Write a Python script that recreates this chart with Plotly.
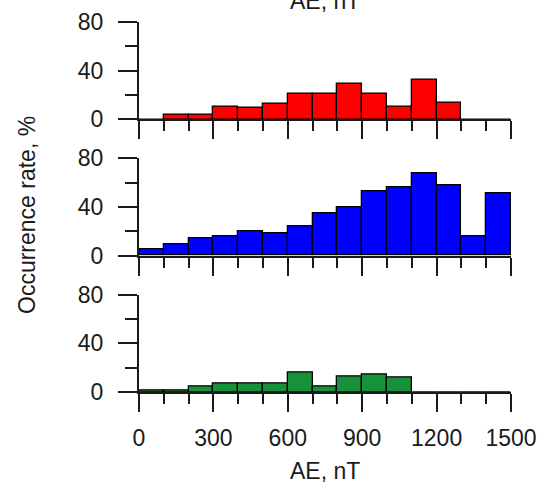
import plotly.graph_objects as go

bin_left = [0, 100, 200, 300, 400, 500, 600, 700, 800, 900, 1000, 1100, 1200, 1300, 1400]
red_vals = [0, 3.6, 3.6, 10.3, 9.2, 12.5, 20.6, 20.6, 29.2, 20.6, 10.3, 32.5, 13.9, 0, 0]
blue_vals = [5, 9.7, 14.6, 16.3, 19.9, 18, 24.5, 34.5, 39.4, 53, 56.3, 67.6, 58, 16, 51]
green_vals = [1, 1, 4.7, 6.8, 6.8, 6.8, 16.4, 4.7, 12.9, 14.5, 11.8, 0, 0, 0, 0]
x_ticks = [0, 300, 600, 900, 1200, 1500]
y_ticks = [0, 40, 80]
x_title = "AE, nT"
y_title = "Occurrence rate, %"

series = [red_vals, blue_vals, green_vals]
colors = ["#FF0000", "#0000FF", "#17923A"]

W, H = 541, 483
L, R = 139, 511
# panel pixel extents (top of 80, bottom at 0)
panels_px = [(21.7, 119.3), (158.3, 255.7), (294.5, 392.0)]
domains = [[1 - b / H, 1 - t / H] for t, b in panels_px]

FONT = "Liberation Sans, Arial, sans-serif"
INK = "#1a1a1a"

fig = go.Figure()
centers = [b + 50 for b in bin_left]
for i, (vals, col) in enumerate(zip(series, colors)):
    xa = "x" if i == 0 else f"x{i+1}"
    ya = "y" if i == 0 else f"y{i+1}"
    fig.add_trace(go.Bar(
        x=centers, y=vals, width=100, marker=dict(color=col, line=dict(color="black", width=1.3)),
        xaxis=xa, yaxis=ya, showlegend=False, hoverinfo="skip"))

layout = dict(
    width=W, height=H,
    margin=dict(l=L, r=W - R, t=0, b=0, autoexpand=False),
    plot_bgcolor="white", paper_bgcolor="white",
    bargap=0,
    font=dict(family=FONT, size=23, color=INK),
)
for i in range(3):
    xk = "xaxis" if i == 0 else f"xaxis{i+1}"
    yk = "yaxis" if i == 0 else f"yaxis{i+1}"
    yname = "y" if i == 0 else f"y{i+1}"
    xname = "x" if i == 0 else f"x{i+1}"
    layout[xk] = dict(
        domain=[0, 1], anchor=yname, range=[0, 1500],
        tickvals=x_ticks, ticktext=[str(v) for v in x_ticks],
        showticklabels=(i == 2), automargin=False,
        ticks="outside", ticklen=18, tickwidth=2, tickcolor=INK,
        showline=True, linecolor=INK, linewidth=2, showgrid=False, zeroline=False,
        minor=dict(ticks="outside", dtick=100, tick0=0, ticklen=10, tickwidth=2, tickcolor=INK, showgrid=False),
        ticklabelstandoff=6,
        fixedrange=True,
    )
    layout[yk] = dict(
        domain=domains[i], anchor=xname, range=[0, 80], automargin=False,
        tickvals=y_ticks, ticktext=[str(v) for v in y_ticks],
        ticks="outside", ticklen=19, tickwidth=2, tickcolor=INK,
        showline=True, linecolor=INK, linewidth=2, showgrid=False, zeroline=False,
        minor=dict(ticks="outside", dtick=20, tick0=0, ticklen=12, tickwidth=2, tickcolor=INK, showgrid=False),
        ticklabelstandoff=10,
        fixedrange=True,
    )
fig.update_layout(**layout)

afont = dict(family=FONT, size=23, color=INK)
fig.add_annotation(text=x_title, xref="paper", yref="paper", x=0.5, y=(H - 471) / H,
                   xanchor="center", yanchor="middle", showarrow=False, font=afont)
fig.add_annotation(text=x_title, xref="paper", yref="paper", x=0.5, y=(H - 1.5) / H,
                   xanchor="center", yanchor="middle", showarrow=False, font=afont)
fig.add_annotation(text=y_title, xref="paper", yref="paper", x=(27 - L) / (R - L), y=(H - 215) / H,
                   xanchor="center", yanchor="middle", textangle=-90, showarrow=False, font=afont)

fig.write_html("out.html", config={"displayModeBar": False},
               post_script="document.body.style.margin='0';document.body.style.overflow='hidden';")
